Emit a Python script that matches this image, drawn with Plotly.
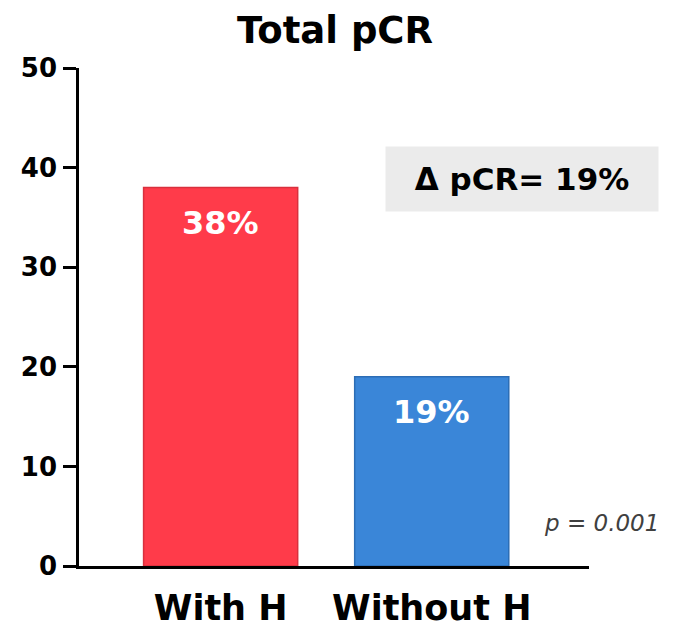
import plotly.graph_objects as go

# Data
categories = ["With H", "Without H"]
pcr_values = [38, 19]
bar_colors = ["#FF3B4A", "#3A86D8"]
edge_colors = ["#D9303D", "#2C6DB5"]
y_ticks = [0, 10, 20, 30, 40, 50]
delta_label = "\u0394 pCR= 19%"
p_label = "p = 0.001"

FONT = "DejaVu Sans"

fig = go.Figure()
fig.add_trace(go.Bar(
    x=categories,
    y=pcr_values,
    width=0.73,
    marker=dict(color=bar_colors, line=dict(color=edge_colors, width=1.5)),
))

# value labels just below each bar top
for cat, v in zip(categories, pcr_values):
    fig.add_annotation(
        x=cat, y=v, xref="x", yref="y", yshift=-35,
        text=f"{v}%", showarrow=False, xanchor="center", yanchor="middle",
        font=dict(family=FONT, size=32, color="white", weight="bold"),
    )

fig.update_layout(
    width=674, height=631,
    margin=dict(l=79, r=85, t=68, b=65),
    plot_bgcolor="white", paper_bgcolor="white",
    showlegend=False,
    title=dict(text="Total pCR", x=0.497, xanchor="center", y=1 - 30 / 631, yanchor="middle",
               automargin=False,
               font=dict(family=FONT, size=37, color="black", weight="bold")),
    xaxis=dict(
        range=[-0.671, 1.745],
        showline=True, linecolor="black", linewidth=3,
        ticks="", showgrid=False, zeroline=False, automargin=False,
        tickfont=dict(family=FONT, size=35, color="black", weight="bold"),
        ticklabelstandoff=9,
    ),
    yaxis=dict(
        range=[0, 50],
        tickvals=y_ticks,
        showline=True, linecolor="black", linewidth=2.5,
        ticks="outside", ticklen=13, tickwidth=2.5, tickcolor="black",
        showgrid=False, zeroline=False, automargin=False,
        tickfont=dict(family=FONT, size=26, color="black", weight="bold"),
        ticklabelstandoff=1,
    ),
)

fig.add_annotation(
    text=delta_label, xref="paper", yref="paper",
    x=(522 - 79) / 510, y=(566 - 179) / 498, xanchor="center", yanchor="middle",
    showarrow=False, bgcolor="#EBEBEB", width=270, height=62,
    font=dict(family=FONT, size=31, color="black", weight="bold"),
)

fig.add_annotation(
    text=f"<i>{p_label}</i>", xref="paper", yref="paper",
    x=(601 - 79) / 510, y=(566 - 523) / 498, xanchor="center", yanchor="middle",
    showarrow=False,
    font=dict(family=FONT, size=23, color="#404040"),
)

fig.write_html("out.html")
